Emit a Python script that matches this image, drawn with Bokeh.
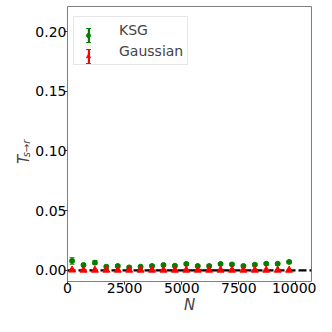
import numpy as np
from bokeh.plotting import figure
from bokeh.layouts import row
from bokeh.models import (Range1d, Whisker, TeeHead, ColumnDataSource, Span, Legend,
                          LegendItem, Label, FixedTicker, CustomJSTickFormatter)
from bokeh.embed import file_html
from bokeh.resources import INLINE

N = [200, 700, 1200, 1700, 2200, 2700, 3200, 3700, 4200, 4700,
     5200, 5700, 6200, 6700, 7200, 7700, 8200, 8700, 9200, 9700]
ksg = [0.0078, 0.0044, 0.0064, 0.0030, 0.0036, 0.0024, 0.0030, 0.0036, 0.0044, 0.0038,
       0.0053, 0.0036, 0.0036, 0.0053, 0.0049, 0.0036, 0.0047, 0.0055, 0.0055, 0.0070]
ksg_err = [0.0027, 0.0013, 0.0015, 0.0012, 0.0012, 0.0011, 0.0011, 0.0011, 0.0011, 0.0011,
           0.0011, 0.0010, 0.0010, 0.0010, 0.0010, 0.0010, 0.0010, 0.0010, 0.0010, 0.0010]
gauss = [0.0002, 0.0001, 0.0001, 0.0001, 0.0001, 0.0001, 0.0001, 0.0001, 0.0001, 0.0001,
         0.0001, 0.0001, 0.0001, 0.0001, 0.0001, 0.0001, 0.0001, 0.0001, 0.0001, 0.0001]
gauss_err = [0.0006, 0.0004, 0.0004, 0.0003, 0.0003, 0.0003, 0.0003, 0.0003, 0.0003, 0.0003,
             0.0003, 0.0003, 0.0003, 0.0003, 0.0003, 0.0003, 0.0003, 0.0003, 0.0003, 0.0003]
x_ticks = [0, 2500, 5000, 7500, 10000]
y_ticks = [0.00, 0.05, 0.10, 0.15, 0.20]
series_labels = ["KSG", "Gaussian"]

FONT = "DejaVu Sans"
GREEN = "#008000"
RED = "#ff0000"
LAB_W = 32
LEG_VY = 216

p = figure(width=316 - LAB_W, height=316, output_backend="svg", toolbar_location=None,
           x_range=Range1d(0, 10680), y_range=Range1d(-0.0094, 0.221),
           min_border_left=30, min_border_right=5, min_border_top=6, min_border_bottom=30)
p.background_fill_color = "white"
p.border_fill_color = "white"
p.outline_line_color = "#808080"
p.outline_line_width = 1
p.xgrid.visible = False
p.ygrid.visible = False

p.xaxis.ticker = FixedTicker(ticks=x_ticks)
p.yaxis.ticker = FixedTicker(ticks=y_ticks)
p.yaxis.formatter = CustomJSTickFormatter(code="return tick.toFixed(2)")
for ax in (p.xaxis[0], p.yaxis[0]):
    ax.axis_line_color = None
    ax.major_tick_line_color = "#333333"
    ax.major_tick_out = 3
    ax.major_tick_in = 0
    ax.minor_tick_line_color = None
    ax.major_label_text_font = FONT
    ax.major_label_text_font_size = "14px"
    ax.major_label_text_color = "black"
    ax.major_label_text_line_height = 1.0
p.xaxis.major_label_standoff = -2
p.yaxis.major_label_standoff = -2
p.xaxis.axis_label = "N"
p.xaxis.axis_label_text_font = FONT
p.xaxis.axis_label_text_font_style = "italic"
p.xaxis.axis_label_text_font_size = "15px"
p.xaxis.axis_label_text_line_height = 1.0
p.xaxis.axis_label_standoff = 0

p.add_layout(Span(location=0, dimension="width", line_color="black",
                  line_width=2.2, line_dash="8 3", level="underlay"))

src_k = ColumnDataSource(dict(x=N, y=ksg, lo=[a - b for a, b in zip(ksg, ksg_err)],
                              hi=[a + b for a, b in zip(ksg, ksg_err)]))
src_g = ColumnDataSource(dict(x=N, y=gauss, lo=[a - b for a, b in zip(gauss, gauss_err)],
                              hi=[a + b for a, b in zip(gauss, gauss_err)]))

for src, col in ((src_k, GREEN), (src_g, RED)):
    w = Whisker(source=src, base="x", upper="hi", lower="lo", dimension="height",
                line_color=col, line_width=1,
                upper_head=TeeHead(size=5, line_color=col, line_width=1),
                lower_head=TeeHead(size=5, line_color=col, line_width=1))
    p.add_layout(w)

rk = p.scatter("x", "y", source=src_k, marker="circle", size=5, color=GREEN)
rg = p.scatter("x", "y", source=src_g, marker="triangle", size=7, color=RED)

# ---- legend: a box with labels, plus overlaid legends that build errorbar icons
nan = [float("nan")]
inv = p.scatter(nan, nan, marker="circle", fill_alpha=0, line_alpha=0)
bars = [p.vbar(x=nan, top=nan, width=1, fill_color=c, line_color=None) for c in (GREEN, RED)]
marks = [p.scatter(nan, nan, marker=m, color=c) for m, c in (("circle", GREEN), ("triangle", RED))]
caps = [p.scatter(nan, nan, marker="dash", line_color=c, line_width=1) for c in (GREEN, RED)]

common = dict(padding=4, spacing=3, glyph_height=18, label_height=18,
              label_text_font=FONT, label_text_font_size="14px")
overlay = dict(border_line_color=None, background_fill_alpha=0, label_standoff=0, **common)

legA = Legend(items=[LegendItem(label=series_labels[0], renderers=[inv]),
                     LegendItem(label=series_labels[1], renderers=[inv])],
              location=(6, LEG_VY), glyph_width=20, label_standoff=21,
              border_line_color="#d0d0d0", border_line_width=1,
              background_fill_color="white", background_fill_alpha=0.85, **common)
p.add_layout(legA, "center")
legB = Legend(items=[LegendItem(label=" ", renderers=[r]) for r in bars],
              location=(19.5, LEG_VY), glyph_width=3, **overlay)
p.add_layout(legB, "center")
legC = Legend(items=[LegendItem(label=" ", renderers=[r]) for r in marks],
              location=(16, LEG_VY), glyph_width=10, **overlay)
p.add_layout(legC, "center")
for dy in (7, -7):
    legD = Legend(items=[LegendItem(label=" ", renderers=[r]) for r in caps],
                  location=(15, LEG_VY + dy), glyph_width=12, **overlay)
    p.add_layout(legD, "center")

# ---- y axis label T_{s->r} in a narrow side panel (its frame is aligned with the main frame)
lab = figure(width=LAB_W, height=316, output_backend="svg", toolbar_location=None,
             x_axis_type=None, y_axis_type=None, x_range=Range1d(0, 1), y_range=Range1d(0, 1),
             min_border=0, min_border_left=0, min_border_right=0, min_border_top=0,
             min_border_bottom=0)
lab.outline_line_color = None
lab.background_fill_color = "white"
lab.border_fill_color = "white"
lab.grid.visible = False
lab.add_layout(Label(x=23, y=122, x_units="screen", y_units="screen", text="T",
                     angle=np.pi / 2, text_font=FONT, text_font_style="italic",
                     text_font_size="15px", text_align="center", text_baseline="middle"))
lab.add_layout(Label(x=26, y=133, x_units="screen", y_units="screen", text="s→r",
                     angle=np.pi / 2, text_font=FONT, text_font_style="italic",
                     text_font_size="10px", text_align="center", text_baseline="middle"))

layout = row(lab, p, spacing=0)
open("out.html", "w").write(file_html(layout, INLINE))
